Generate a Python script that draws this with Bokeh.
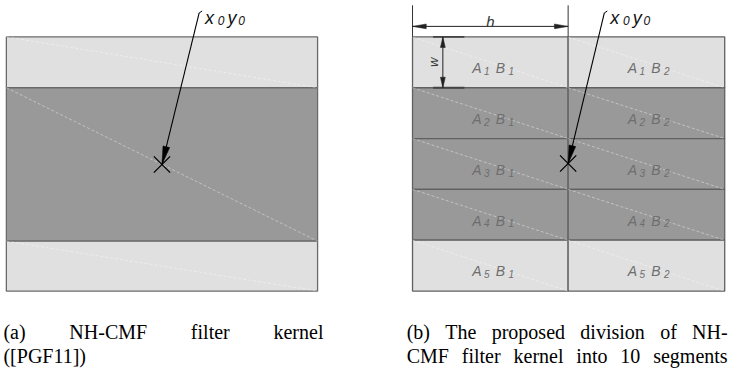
import numpy as np
from bokeh.plotting import figure
from bokeh.models import Range1d
from bokeh.core.properties import value
from bokeh.embed import file_html
from bokeh.resources import INLINE

# ---------------- data (diagram geometry in reference pixel units) ----------------
# panel (a): one kernel, three horizontal bands
a_left, a_right = 6, 324
a_band_edges = [38, 91, 251, 303]
a_band_shade = ["light", "dark", "light"]
a_center = (165, 171)
a_label_anchor = (203, 13)

# panel (b): 5 rows x 2 columns of segments
b_col_edges = [421, 580, 740]
b_row_edges = [38, 91, 144, 197, 250, 303]
b_row_shade = ["light", "dark", "dark", "dark", "light"]
b_row_index = ["1", "2", "3", "4", "5"]
b_col_index = ["1", "2"]
b_center = (580, 170)
b_label_anchor = (617, 13)

caption_a = [["(a)", "NH-CMF", "filter", "kernel"], ["([PGF11])"]]
caption_b = [["(b)", "The", "proposed", "division", "of", "NH-"],
             ["CMF", "filter", "kernel", "into", "10", "segments"]]

# ---------------- styles / layout ----------------
W_PX, H_PX = 734, 373
X_SPAN, Y_SPAN = 750, 389
LIGHT, DARK = "#e0e0e0", "#999999"
shade = {"light": LIGHT, "dark": DARK}
SANS = value("Liberation Sans")
SERIF = value("Liberation Serif")

p = figure(width=W_PX, height=H_PX, x_range=Range1d(0, X_SPAN), y_range=Range1d(Y_SPAN, 0),
           output_backend="svg", toolbar_location=None, min_border=0,
           x_axis_location=None, y_axis_location=None)
p.grid.visible = False
p.outline_line_color = None
p.background_fill_color = "white"
p.border_fill_color = "white"

# ---- panel (a) bands
p.quad(left=[a_left] * 3, right=[a_right] * 3, top=a_band_edges[:-1], bottom=a_band_edges[1:],
       fill_color=[shade[s] for s in a_band_shade], line_color="#6a6a6a", line_width=1.3)
p.segment(x0=[a_left] * 3, y0=a_band_edges[:-1], x1=[a_right] * 3, y1=a_band_edges[1:],
          line_color="white", line_alpha=0.5, line_dash="3 2", line_width=0.8)

# ---- panel (b) cells
cl, cr, ct, cb, cf = [], [], [], [], []
for r in range(5):
    for c in range(2):
        cl.append(b_col_edges[c]); cr.append(b_col_edges[c + 1])
        ct.append(b_row_edges[r]); cb.append(b_row_edges[r + 1])
        cf.append(shade[b_row_shade[r]])
p.quad(left=cl, right=cr, top=ct, bottom=cb, fill_color=cf, line_color="#606060", line_width=1.3)
p.segment(x0=cl, y0=ct, x1=cr, y1=cb, line_color="white", line_alpha=0.5,
          line_dash="3 2", line_width=0.8)

# cell labels A_i B_j
lab_x, lab_y, lab_t, sub_x, sub_y, sub_t = [], [], [], [], [], []
for r in range(5):
    yc = (b_row_edges[r] + b_row_edges[r + 1]) / 2
    for c in range(2):
        x0 = b_col_edges[c]
        lab_x += [x0 + 61, x0 + 85]; lab_y += [yc + 6, yc + 6]; lab_t += ["A", "B"]
        sub_x += [x0 + 73, x0 + 98]; sub_y += [yc + 9, yc + 9]
        sub_t += [b_row_index[r], b_col_index[c]]
p.text(x=lab_x, y=lab_y, text=lab_t, text_font=SANS, text_font_style="italic",
       text_font_size="14px", text_color="#6e6e6e", text_baseline="alphabetic")
p.text(x=sub_x, y=sub_y, text=sub_t, text_font=SANS, text_font_style="italic",
       text_font_size="10px", text_color="#6e6e6e", text_baseline="alphabetic")


# ---- arrows x0y0 -> centre, with X marks
def head(tip, tail, length, hw):
    tip = np.array(tip, float); tail = np.array(tail, float)
    d = (tip - tail) / np.linalg.norm(tip - tail)
    n = np.array([-d[1], d[0]])
    base = tip - d * length
    pts = [tip, base + n * hw, base - n * hw]
    return [q[0] for q in pts], [q[1] for q in pts]


for anchor, ctr in [(a_label_anchor, a_center), (b_label_anchor, b_center)]:
    p.segment(x0=[anchor[0]], y0=[anchor[1]], x1=[ctr[0]], y1=[ctr[1]],
              line_color="black", line_width=1.1)
    p.segment(x0=[anchor[0]], y0=[anchor[1]], x1=[anchor[0] + 3], y1=[anchor[1] - 2],
              line_color="black", line_width=1.0)
    hx, hy = head(ctr, anchor, 19, 3.5)
    p.patch(hx, hy, fill_color="black", line_color="black", line_width=0.5)
    p.scatter(x=[ctr[0]], y=[ctr[1]], marker="x", size=23, line_color="black", line_width=1.3)
    ax = anchor[0]
    p.text(x=[ax + 6, ax + 29], y=[anchor[1] + 5] * 2, text=["x", "y"], text_font=SANS,
           text_font_style="italic", text_font_size="18px", text_color="#111111",
           text_baseline="alphabetic")
    p.text(x=[ax + 19, ax + 40], y=[anchor[1] + 8] * 2, text=["0", "0"], text_font=SANS,
           text_font_style="italic", text_font_size="12px", text_color="#111111",
           text_baseline="alphabetic")

# ---- dimension h (width of one column)
hy_ = 27
p.segment(x0=[b_col_edges[0], b_col_edges[1]], y0=[5, 5], x1=[b_col_edges[0], b_col_edges[1]],
          y1=[b_row_edges[0], b_row_edges[0]], line_color="#333333", line_width=1)
p.segment(x0=[b_col_edges[0]], y0=[hy_], x1=[b_col_edges[1]], y1=[hy_], line_color="#222222", line_width=1)
for tip, tail in [((b_col_edges[0], hy_), (b_col_edges[1], hy_)), ((b_col_edges[1], hy_), (b_col_edges[0], hy_))]:
    hx, hy = head(tip, tail, 14, 2.5)
    p.patch(hx, hy, fill_color="#222222", line_color="#222222", line_width=0.5)
p.text(x=[(b_col_edges[0] + b_col_edges[1]) / 2], y=[22], text=["h"], text_font=SANS,
       text_font_style="italic", text_font_size="15px", text_color="#333333",
       text_align="center", text_baseline="alphabetic")

# ---- dimension w (height of one row)
wx = 452
p.segment(x0=[442, 442], y0=b_row_edges[:2], x1=[474, 474], y1=b_row_edges[:2],
          line_color="#444444", line_width=1.8)
p.segment(x0=[wx], y0=[b_row_edges[0]], x1=[wx], y1=[b_row_edges[1]], line_color="#222222", line_width=1)
for tip, tail in [((wx, b_row_edges[0]), (wx, b_row_edges[1])), ((wx, b_row_edges[1]), (wx, b_row_edges[0]))]:
    hx, hy = head(tip, tail, 11, 2.5)
    p.patch(hx, hy, fill_color="#222222", line_color="#222222", line_width=0.5)
p.text(x=[442], y=[(b_row_edges[0] + b_row_edges[1]) / 2], text=["w"], angle=np.pi / 2,
       text_font=SANS, text_font_style="italic", text_font_size="13px", text_color="#333333",
       text_align="center", text_baseline="middle")

# ---- captions (justified: words placed with equal gaps, Times metrics)
CAP_PX = 20
TIMES = {" ": 250, "(": 333, ")": 333, "[": 333, "]": 333, "-": 333, "0": 500, "1": 500,
         "a": 444, "b": 500, "c": 444, "d": 500, "e": 444, "f": 333, "g": 500, "h": 500,
         "i": 278, "k": 500, "l": 278, "m": 778, "n": 500, "o": 500, "p": 500, "r": 333,
         "s": 389, "t": 278, "v": 500, "C": 667, "F": 556, "G": 722, "H": 722, "M": 889,
         "N": 722, "P": 556, "T": 611}
units_per_px = X_SPAN / W_PX


def word_w(w):
    return sum(TIMES.get(ch, 500) for ch in w) / 1000 * CAP_PX * units_per_px


line_base = [346, 371]
cap_specs = [(caption_a, 3, 330, [True, False]), (caption_b, 415, 743, [True, True])]
wx_all, wy_all, wt_all = [], [], []
for words, left, right, justify in cap_specs:
    for li, wl in enumerate(words):
        widths = [word_w(w) for w in wl]
        if justify[li] and len(wl) > 1:
            gap = (right - left - sum(widths)) / (len(wl) - 1)
        else:
            gap = word_w(" ")
        x = left
        for w, ww in zip(wl, widths):
            wx_all.append(x); wy_all.append(line_base[li]); wt_all.append(w)
            x += ww + gap
p.text(x=wx_all, y=wy_all, text=wt_all, text_font=SERIF, text_font_size=f"{CAP_PX}px",
       text_color="black", text_baseline="alphabetic")

open("out.html", "w").write(file_html(p, INLINE))
